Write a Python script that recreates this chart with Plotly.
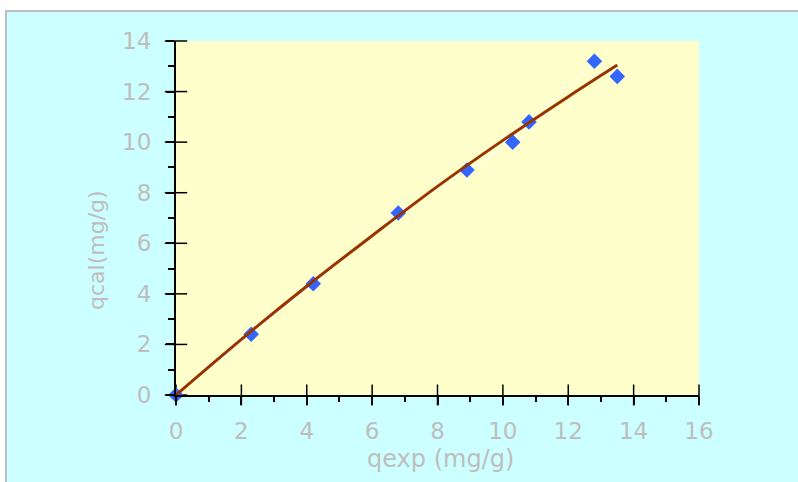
import plotly.graph_objects as go

# ---- data ----
qexp = [0, 2.3, 4.2, 6.8, 8.9, 10.3, 10.8, 12.8, 13.5]
qcal = [0, 2.4, 4.4, 7.2, 8.9, 10.0, 10.8, 13.2, 12.6]
trend_x = [0, 2, 4, 6, 8, 10, 12, 13.5]
trend_y = [0, 2.2, 4.3, 6.3, 8.25, 10.07, 11.8, 13.05]
x_ticks = [0, 2, 4, 6, 8, 10, 12, 14, 16]
y_ticks = [0, 2, 4, 6, 8, 10, 12, 14]
x_title = "qexp (mg/g)"
y_title = "qcal(mg/g)"

W, H = 798, 482
L, R, T, B = 176, 99, 41, 87
PW, PH = W - L - R, H - T - B

def px(x):
    return (x - L) / PW

def py(y):
    return (H - B - y) / PH

FONT = "DejaVu Sans"
GREY = "#BEBEBE"
tickfont = dict(family=FONT, size=23, color=GREY)

fig = go.Figure()
# cross-style major tick marks (inner half) drawn on the axis lines
fig.add_trace(go.Scatter(
    x=x_ticks, y=[0] * len(x_ticks), mode="markers",
    marker=dict(symbol="line-ns", size=15, color="black", line=dict(width=1.5, color="black")),
    cliponaxis=False, hoverinfo="skip", showlegend=False,
))
fig.add_trace(go.Scatter(
    x=[0] * len(y_ticks), y=y_ticks, mode="markers",
    marker=dict(symbol="line-ew", size=16, color="black", line=dict(width=1.5, color="black")),
    cliponaxis=False, hoverinfo="skip", showlegend=False,
))
fig.add_trace(go.Scatter(
    x=qexp, y=qcal, mode="lines+markers",
    line=dict(color="white", width=1),
    marker=dict(symbol="diamond", size=12, color="#3366FF"),
    cliponaxis=False, hoverinfo="skip", showlegend=False,
))
fig.add_trace(go.Scatter(
    x=trend_x, y=trend_y, mode="lines",
    line=dict(color="#993300", width=3, shape="spline"),
    hoverinfo="skip", showlegend=False,
))

axis_common = dict(showgrid=False, zeroline=False, fixedrange=True)
fig.update_layout(
    width=W, height=H,
    margin=dict(l=L, r=R, t=T, b=B),
    paper_bgcolor="#CCFFFF",
    plot_bgcolor="#FFFFCC",
    font=dict(family=FONT, color=GREY),
    xaxis=dict(range=[0, 16], tickvals=x_ticks, ticks="outside", ticklen=8,
               tickwidth=1.5, tickcolor="black", showline=True, linecolor="black",
               linewidth=2, tickfont=tickfont, ticklabelstandoff=6,
               minor=dict(ticks="outside", ticklen=5, dtick=1, tickcolor="black", tickwidth=1.5),
               **axis_common),
    yaxis=dict(range=[0, 14], tickvals=y_ticks, ticks="outside", ticklen=8,
               tickwidth=1.5, tickcolor="black", showline=True, linecolor="black",
               linewidth=2, tickfont=tickfont, ticklabelstandoff=10,
               minor=dict(ticks="outside", ticklen=6, dtick=1, tickcolor="black", tickwidth=1.5),
               **axis_common),
    annotations=[
        dict(text=x_title, xref="paper", yref="paper", x=px(440), y=py(459),
             showarrow=False, xanchor="center", yanchor="middle",
             font=dict(family=FONT, size=24, color=GREY)),
        dict(text=y_title, xref="paper", yref="paper", x=px(96), y=py(250),
             showarrow=False, xanchor="center", yanchor="middle", textangle=-90,
             font=dict(family=FONT, size=22, color=GREY)),
    ],
    shapes=[
        dict(type="rect", xref="paper", yref="paper", x0=px(0), x1=px(W), y0=py(0), y1=py(10),
             fillcolor="white", line=dict(width=0), layer="below"),
        dict(type="rect", xref="paper", yref="paper", x0=px(0), x1=px(5), y0=py(H), y1=py(0),
             fillcolor="white", line=dict(width=0), layer="below"),
        dict(type="line", xref="paper", yref="paper", x0=px(5), x1=px(W), y0=py(11), y1=py(11),
             line=dict(color=GREY, width=2)),
        dict(type="line", xref="paper", yref="paper", x0=px(6), x1=px(6), y0=py(10), y1=py(H),
             line=dict(color=GREY, width=2)),
    ],
)

fig.write_html("out.html", config={"displayModeBar": False})
